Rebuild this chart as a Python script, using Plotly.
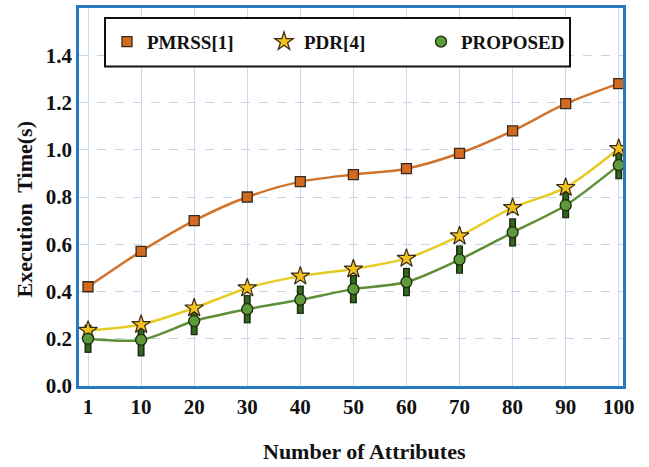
import plotly.graph_objects as go

# Number of attributes (categorical x positions)
attributes = ["1", "10", "20", "30", "40", "50", "60", "70", "80", "90", "100"]

# Execution time in seconds for each method
pmrss = [0.42, 0.57, 0.70, 0.80, 0.865, 0.895, 0.92, 0.985, 1.08, 1.195, 1.28]
pdr = [0.235, 0.26, 0.33, 0.415, 0.465, 0.495, 0.54, 0.635, 0.755, 0.84, 1.005]
proposed = [0.20, 0.195, 0.275, 0.325, 0.365, 0.41, 0.44, 0.535, 0.65, 0.765, 0.935]
proposed_err = [0.06, 0.07, 0.06, 0.06, 0.06, 0.06, 0.06, 0.06, 0.06, 0.055, 0.06]

y_ticks = [0.0, 0.2, 0.4, 0.6, 0.8, 1.0, 1.2, 1.4]

FONT = "Liberation Serif"
ORANGE = "#d06b1f"
ORANGE_LINE = "#d0732c"
GOLD = "#f2c11c"
GOLD_LINE = "#e6cc22"
GREEN = "#5f9a3a"
GREEN_LINE = "#5d8f36"
DARK_GREEN = "#2f6a1e"
EDGE = "#3a2a1a"

# plot area in pixels
L, R, T, B = 79, 623, 5, 386
W, H = R - L, B - T

fig = go.Figure()

# smoothed connecting lines
for ys, col in [(pmrss, ORANGE_LINE), (pdr, GOLD_LINE), (proposed, GREEN_LINE)]:
    fig.add_trace(go.Scatter(
        x=attributes, y=ys, mode="lines",
        line=dict(color=col, width=2.5, shape="spline", smoothing=0.8),
        showlegend=False, hoverinfo="skip",
    ))

# error bars of the proposed method: dark outline below, green fill on top
fig.add_trace(go.Scatter(
    x=attributes, y=proposed, mode="markers",
    marker=dict(size=1, opacity=0),
    error_y=dict(type="data", array=proposed_err, color="#1d2a10", thickness=7, width=0),
    showlegend=False, hoverinfo="skip",
))
fig.add_trace(go.Scatter(
    x=attributes, y=proposed, mode="markers",
    marker=dict(size=1, opacity=0),
    error_y=dict(type="data", array=[e - 0.005 for e in proposed_err], color=DARK_GREEN,
                 thickness=4, width=0),
    showlegend=False, hoverinfo="skip",
))

# markers (these also provide the legend entries)
fig.add_trace(go.Scatter(
    x=attributes, y=pmrss, mode="markers", name="PMRSS[1]",
    marker=dict(symbol="square", size=10, color=ORANGE, line=dict(color=EDGE, width=1.3)),
))
fig.add_trace(go.Scatter(
    x=attributes, y=pdr, mode="markers", name="PDR[4]",
    marker=dict(symbol="star", size=14, color=GOLD, line=dict(color=EDGE, width=1.2)),
))
fig.add_trace(go.Scatter(
    x=attributes, y=proposed, mode="markers", name="PROPOSED",
    marker=dict(symbol="circle", size=11, color=GREEN, line=dict(color="#1d2a10", width=1.3)),
))

# legend frame
fig.add_shape(
    type="rect", xref="paper", yref="paper",
    x0=(105 - L) / W, x1=(570 - L) / W,
    y0=1 - (64 - T) / H, y1=1 - (15 - T) / H,
    line=dict(color="#111111", width=2), fillcolor="white", layer="above",
)

# axis titles
fig.add_annotation(
    text="Number of Attributes", xref="paper", yref="paper",
    x=(364 - L) / W, y=1 - (452 - T) / H, xanchor="center", yanchor="middle",
    showarrow=False, font=dict(family=FONT, size=22, weight="bold", color="#111111"),
)
fig.add_annotation(
    text="Execution  Time(s)", xref="paper", yref="paper",
    x=(24 - L) / W, y=1 - (208 - T) / H, xanchor="center", yanchor="middle",
    textangle=-90, showarrow=False,
    font=dict(family=FONT, size=22, weight="bold", color="#111111"),
)

fig.update_layout(
    width=649, height=467,
    margin=dict(l=L, r=649 - R, t=T, b=467 - B),
    paper_bgcolor="white", plot_bgcolor="white",
    font=dict(family=FONT, size=18, color="#111111", weight="bold"),
    legend=dict(
        orientation="h",
        x=(107 - L) / W, y=1 - (39 - T) / H, xanchor="left", yanchor="middle",
        bgcolor="rgba(0,0,0,0)", borderwidth=0,
        font=dict(family=FONT, size=19, color="#111111", weight="bold"),
        entrywidth=112, entrywidthmode="pixels",
        itemsizing="trace",
    ),
    showlegend=True,
)

fig.update_xaxes(
    type="category",
    range=[-0.17, 10.08],
    showgrid=True, gridcolor="#c6dcee", gridwidth=1,
    showline=True, linecolor="#2a78c2", linewidth=2.5, mirror=True,
    ticks="", tickfont=dict(family=FONT, size=21, weight="bold"),
    zeroline=False,
)
fig.update_yaxes(
    range=[0, 1.6],
    tickvals=y_ticks, ticktext=[f"{v:.1f}" for v in y_ticks],
    showgrid=True, gridcolor="#c6d6e6", gridwidth=1.2, griddash="dash",
    showline=True, linecolor="#2a78c2", linewidth=2.5, mirror=True,
    ticks="", tickfont=dict(family=FONT, size=21, weight="bold"),
    zeroline=False,
)

fig.write_html("out.html")
